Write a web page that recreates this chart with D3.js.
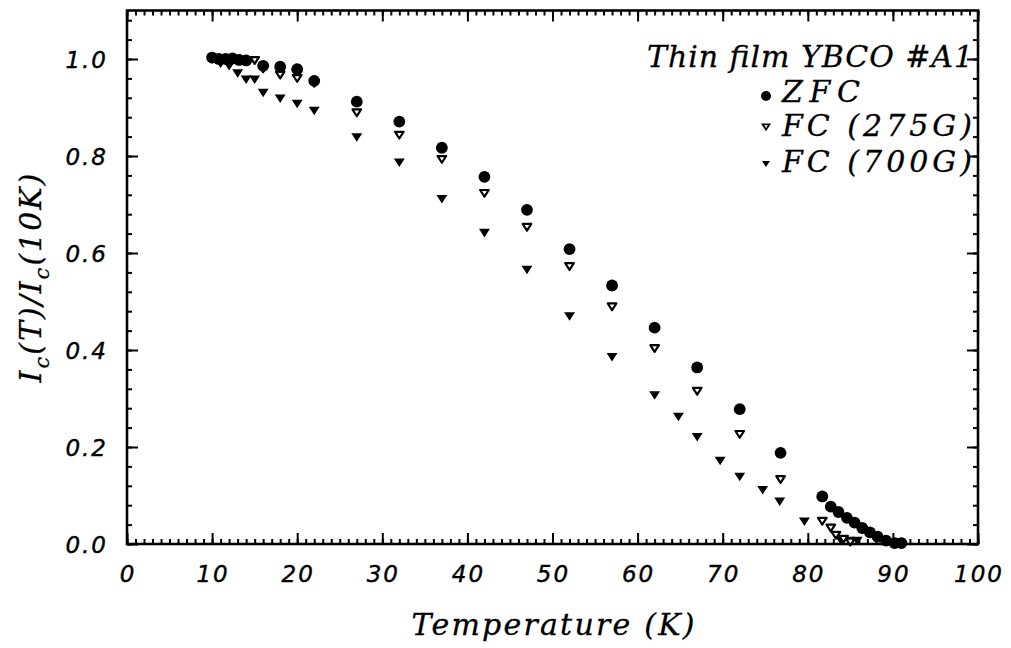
<!DOCTYPE html>
<html>
<head>
<meta charset="utf-8">
<script src="https://cdn.jsdelivr.net/npm/d3@7/dist/d3.min.js"></script>
<style>
  html, body { margin: 0; padding: 0; background: #fff; }
  svg { display: block; }
  .tick-label { font-family: "DejaVu Sans", sans-serif; font-style: italic; font-size: 23px; letter-spacing: 2px; fill: #000; stroke: #000; stroke-width: 0.4px; }
  .serif-it { font-family: "DejaVu Serif", "Liberation Serif", serif; font-style: italic; fill: #000; stroke: #000; stroke-width: 0.3px; }
</style>
</head>
<body>
<svg id="chart" width="1011" height="648"></svg>
<script>
// Normalised critical current Ic(T)/Ic(10K) of a thin-film YBCO sample

// Zero-field cooled
const zfcT = [10, 10.8, 11.6, 12.4, 13.2, 14, 16, 18, 20, 22, 27, 32, 37, 42, 47, 52, 57, 62, 67, 72, 76.8,
              81.7, 82.7, 83.6, 84.6, 85.5, 86.4, 87.3, 88.2, 89.2, 90.2, 91];
const zfcV = [1.003, 1.0, 1.0, 1.001, 0.998, 0.997, 0.986, 0.984, 0.979, 0.955, 0.912, 0.871, 0.817, 0.757, 0.689, 0.608, 0.533, 0.446, 0.364, 0.278, 0.188,
              0.098, 0.077, 0.066, 0.054, 0.044, 0.033, 0.024, 0.015, 0.007, 0.002, 0.002];

// Field cooled, 275 G
const fc275T = [10, 11, 12, 13, 14, 15, 16, 18, 20, 22, 27, 32, 37, 42, 47, 52, 57, 62, 67, 72, 76.8,
                81.7, 82.7, 83.3, 84.2, 85];
const fc275V = [1.0, 0.998, 0.997, 0.996, 0.995, 0.997, 0.98, 0.967, 0.96, 0.95, 0.889, 0.843, 0.793, 0.723, 0.653, 0.572, 0.489, 0.403, 0.315, 0.226, 0.133,
                0.047, 0.033, 0.018, 0.01, 0.004];

// Field cooled, 700 G
const fc700T = [10, 11, 12, 13, 14, 15, 16, 18, 20, 22, 27, 32, 37, 42, 47, 52, 57, 62, 64.8, 67, 69.7, 72, 74.7, 76.7, 79.6,
                83.9, 84.9, 85.8];
const fc700V = [1.0, 0.99, 0.985, 0.97, 0.957, 0.957, 0.93, 0.918, 0.907, 0.893, 0.838, 0.786, 0.711, 0.641, 0.565, 0.469, 0.385, 0.306, 0.262, 0.22, 0.171, 0.138, 0.111, 0.087, 0.046,
                0.006, 0.006, 0.006];

const xTicks = [0, 10, 20, 30, 40, 50, 60, 70, 80, 90, 100];
const yTicks = [0.0, 0.2, 0.4, 0.6, 0.8, 1.0];
const xLabels = ["0", "10", "20", "30", "40", "50", "60", "70", "80", "90", "100"];
const yLabels = ["0.0", "0.2", "0.4", "0.6", "0.8", "1.0"];

const legendTitle = "Thin film YBCO #A1";
const seriesNames = ["ZFC", "FC (275G)", "FC (700G)"];

const svg = d3.select("#chart");
const plotLeft = 127, plotRight = 978, plotTop = 10.5, plotBottom = 544;

const x = d3.scaleLinear().domain([0, 100]).range([plotLeft, plotRight]);
const y = d3.scaleLinear().domain([0, 1.1]).range([plotBottom, plotTop]);

// Downward-pointing triangle symbol
const triDown = {
  draw(ctx, size) {
    const w = Math.sqrt(size) * 1.15, h = Math.sqrt(size) * 0.9;
    ctx.moveTo(-w / 2, -h / 2);
    ctx.lineTo(w / 2, -h / 2);
    ctx.lineTo(0, h / 2);
    ctx.closePath();
  }
};

// Axes with inward ticks on all four sides
const minorX = d3.range(0, 101, 1);
const minorY = d3.range(0, 1.1001, 0.04);

function axisGroup(axis, transform) {
  const g = svg.append("g").attr("transform", transform).call(axis);
  g.select(".domain").remove();
  g.selectAll(".tick line").attr("stroke", "#000").attr("stroke-width", 2);
  g.selectAll(".tick text").remove();
  return g;
}

axisGroup(d3.axisBottom(x).tickValues(minorX).tickSize(-5), `translate(0,${plotBottom})`);
axisGroup(d3.axisBottom(x).tickValues(xTicks).tickSize(-11), `translate(0,${plotBottom})`);
axisGroup(d3.axisTop(x).tickValues(minorX).tickSize(-5), `translate(0,${plotTop})`);
axisGroup(d3.axisTop(x).tickValues(xTicks).tickSize(-11), `translate(0,${plotTop})`);
axisGroup(d3.axisLeft(y).tickValues(minorY).tickSize(-5), `translate(${plotLeft},0)`);
axisGroup(d3.axisLeft(y).tickValues(yTicks).tickSize(-11), `translate(${plotLeft},0)`);
axisGroup(d3.axisRight(y).tickValues(minorY).tickSize(-5), `translate(${plotRight},0)`);
axisGroup(d3.axisRight(y).tickValues(yTicks).tickSize(-11), `translate(${plotRight},0)`);

// Frame
svg.append("rect")
  .attr("x", plotLeft).attr("y", plotTop)
  .attr("width", plotRight - plotLeft).attr("height", plotBottom - plotTop)
  .attr("fill", "none").attr("stroke", "#000").attr("stroke-width", 2.6);

// Tick labels
svg.append("g").selectAll("text").data(xTicks).join("text")
  .attr("class", "tick-label")
  .attr("x", d => x(d) + 1).attr("y", 582)
  .attr("text-anchor", "middle")
  .text((d, i) => xLabels[i]);

svg.append("g").selectAll("text").data(yTicks).join("text")
  .attr("class", "tick-label")
  .attr("x", 108).attr("y", d => y(d) + 9)
  .attr("text-anchor", "end")
  .text((d, i) => yLabels[i]);

// Axis titles
svg.append("text")
  .attr("class", "serif-it")
  .attr("x", 553).attr("y", 635)
  .attr("text-anchor", "middle")
  .attr("font-size", 30)
  .attr("textLength", 283).attr("lengthAdjust", "spacing")
  .text("Temperature (K)");

const yTitle = svg.append("text")
  .attr("class", "serif-it")
  .attr("transform", "translate(41,277) rotate(-90)")
  .attr("text-anchor", "middle")
  .attr("font-size", 30)
  .attr("letter-spacing", 2);
yTitle.append("tspan").text("I");
yTitle.append("tspan").attr("font-size", 21).attr("dy", 8).text("c");
yTitle.append("tspan").attr("dy", -8).text("(T)/I");
yTitle.append("tspan").attr("font-size", 21).attr("dy", 8).text("c");
yTitle.append("tspan").attr("dy", -8).text("(10K)");

// Data markers
const zfc = zfcT.map((t, i) => ({ t, v: zfcV[i] }));
const fc275 = fc275T.map((t, i) => ({ t, v: fc275V[i] }));
const fc700 = fc700T.map((t, i) => ({ t, v: fc700V[i] }));

const triPath = d3.symbol().type(triDown);

svg.append("g").selectAll("path").data(fc700).join("path")
  .attr("d", triPath.size(90)())
  .attr("transform", d => `translate(${x(d.t)},${y(d.v)})`)
  .attr("fill", "#000");

svg.append("g").selectAll("path").data(fc275).join("path")
  .attr("d", triPath.size(56)())
  .attr("transform", d => `translate(${x(d.t)},${y(d.v)})`)
  .attr("fill", "#fff").attr("stroke", "#000").attr("stroke-width", 2.2)
  .attr("stroke-linejoin", "round");

svg.append("g").selectAll("circle").data(zfc).join("circle")
  .attr("cx", d => x(d.t)).attr("cy", d => y(d.v))
  .attr("r", 5.9).attr("fill", "#000");

// Legend
svg.append("text")
  .attr("class", "serif-it")
  .attr("x", 973).attr("y", 67)
  .attr("text-anchor", "end")
  .attr("font-size", 30)
  .attr("textLength", 326).attr("lengthAdjust", "spacing")
  .text(legendTitle);

const legendRows = [
  { name: seriesNames[0], y: 102, len: 78 },
  { name: seriesNames[1], y: 136, len: 190 },
  { name: seriesNames[2], y: 172, len: 190 }
];
const mx = 766;

svg.append("circle").attr("cx", mx).attr("cy", 96).attr("r", 5).attr("fill", "#000");
svg.append("path").attr("d", triPath.size(36)())
  .attr("transform", `translate(${mx},127)`)
  .attr("fill", "#fff").attr("stroke", "#000").attr("stroke-width", 1.8);
svg.append("path").attr("d", triPath.size(48)())
  .attr("transform", `translate(${mx},164)`)
  .attr("fill", "#000");

svg.append("g").selectAll("text").data(legendRows).join("text")
  .attr("class", "serif-it")
  .attr("x", 782).attr("y", d => d.y)
  .attr("font-size", 30)
  .attr("textLength", d => d.len).attr("lengthAdjust", "spacing")
  .text(d => d.name);
</script>
</body>
</html>
